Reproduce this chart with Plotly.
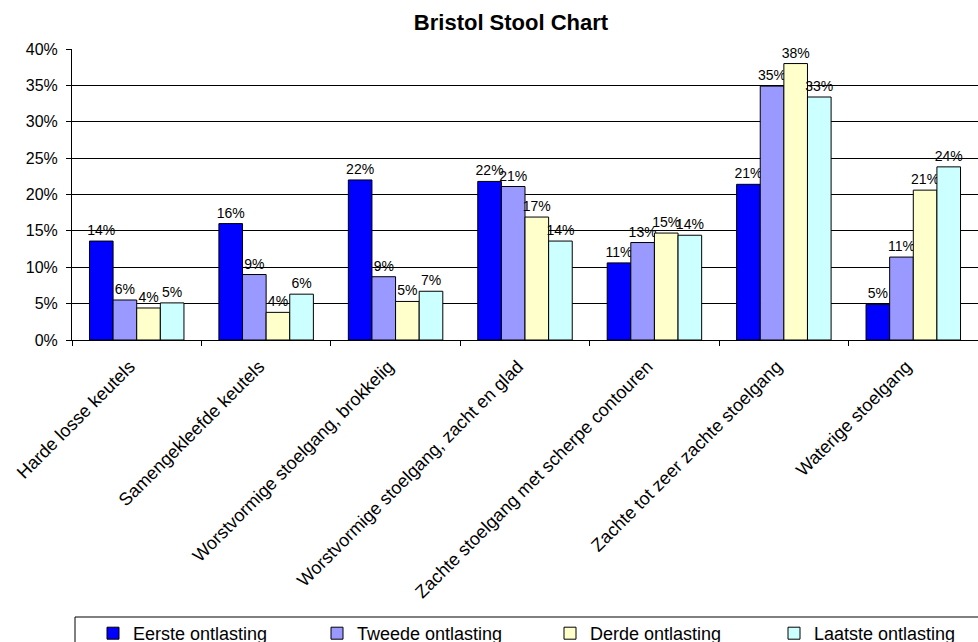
import plotly.graph_objects as go

# Bristol stool types (x categories)
categories = [
    "Harde losse keutels",
    "Samengekleefde keutels",
    "Worstvormige stoelgang, brokkelig",
    "Worstvormige stoelgang, zacht en glad",
    "Zachte stoelgang met scherpe contouren",
    "Zachte tot zeer zachte stoelgang",
    "Waterige stoelgang",
]

# Share of each stool type per bowel movement (fractions)
eerste = [0.136, 0.160, 0.220, 0.218, 0.106, 0.214, 0.049]
tweede = [0.055, 0.090, 0.087, 0.211, 0.134, 0.349, 0.114]
derde = [0.044, 0.038, 0.053, 0.169, 0.147, 0.380, 0.206]
laatste = [0.051, 0.063, 0.067, 0.136, 0.144, 0.334, 0.238]

series_names = ["Eerste ontlasting", "Tweede ontlasting", "Derde ontlasting", "Laatste ontlasting"]
series_values = [eerste, tweede, derde, laatste]
series_colors = ["#0000FF", "#9999FF", "#FFFFCC", "#CCFFFF"]

FONT = "Arial, Liberation Sans, sans-serif"
W, H = 978, 642
ML, MT, MR, MB = 72, 49, 0, 302
PLOT_W = W - ML - MR
PLOT_H = H - MT - MB

# one single-entry legend per series, laid out in a row along the bottom
legend_ids = ["legend", "legend2", "legend3", "legend4"]
legend_left_px = [93, 317, 550, 774]
legend_top_px = 615

fig = go.Figure()
for name, vals, col, lid in zip(series_names, series_values, series_colors, legend_ids):
    fig.add_trace(go.Bar(
        name=name,
        x=categories,
        y=vals,
        legend=lid,
        marker=dict(color=col, line=dict(color="black", width=1)),
        texttemplate="%{y:.0%}",
        textposition="outside",
        constraintext="none",
        cliponaxis=False,
        textfont=dict(family=FONT, size=14, color="black"),
        hovertemplate="%{x}<br>" + name + ": %{y:.1%}<extra></extra>",
    ))

legend_layout = {}
for lid, left in zip(legend_ids, legend_left_px):
    legend_layout[lid] = dict(
        orientation="h",
        xref="container", yref="container",
        x=left / W, y=1 - legend_top_px / H,
        xanchor="left", yanchor="top",
        borderwidth=0,
        bgcolor="rgba(0,0,0,0)",
        font=dict(family=FONT, size=18, color="black"),
    )

# frame around the legend row (runs off the bottom/right of the page)
box_left_px, box_top_px = 75, 617
fig.add_shape(
    type="rect",
    xref="paper", yref="paper",
    x0=(box_left_px - ML) / PLOT_W, x1=(W + 20 - ML) / PLOT_W,
    y0=(H - MB - box_top_px) / PLOT_H, y1=(H - MB - (H + 20)) / PLOT_H,
    line=dict(color="black", width=1),
    fillcolor="rgba(0,0,0,0)",
    layer="below",
)

fig.update_layout(
    width=W,
    height=H,
    margin=dict(l=ML, r=MR, t=MT, b=MB, pad=0, autoexpand=False),
    paper_bgcolor="white",
    plot_bgcolor="white",
    barmode="group",
    bargap=0.27,
    bargroupgap=0,
    font=dict(family=FONT, color="black"),
    title=dict(
        text="<b>Bristol Stool Chart</b>",
        font=dict(family=FONT, size=22, color="black"),
        xref="container", yref="container",
        x=511 / W, y=1 - 22 / H,
        xanchor="center", yanchor="middle",
    ),
    showlegend=True,
    **legend_layout,
)

fig.update_xaxes(
    type="category",
    tickangle=-45,
    tickfont=dict(family=FONT, size=18, color="black"),
    ticklabelstandoff=8,
    ticklabelshift=-7,
    showline=True,
    linecolor="black",
    linewidth=1,
    ticks="outside",
    tickson="boundaries",
    ticklen=5,
    tickcolor="black",
    showgrid=False,
    zeroline=False,
)

fig.update_yaxes(
    range=[0, 0.40],
    dtick=0.05,
    tickformat=".0%",
    tickfont=dict(family=FONT, size=16, color="black"),
    ticklabelstandoff=5,
    showline=True,
    linecolor="black",
    linewidth=1,
    ticks="outside",
    ticklen=5,
    tickcolor="black",
    showgrid=True,
    gridcolor="black",
    gridwidth=1,
    zeroline=False,
)

fig.write_html("out.html")
